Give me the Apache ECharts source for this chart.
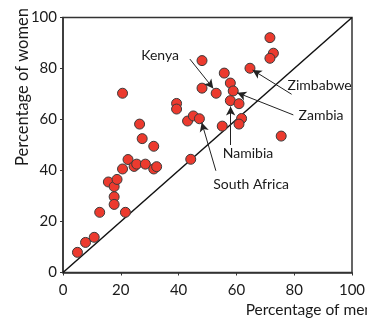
<!DOCTYPE html>
<html>
<head>
<meta charset="utf-8">
<script src="https://cdn.jsdelivr.net/npm/echarts@6/dist/echarts.min.js"></script>
<style>html,body{margin:0;padding:0;background:#fff}#c{width:367px;height:320px}</style>
</head>
<body>
<div id="c"></div>
<script>
// Percentage of men (x) and women (y) per country
const menPct = [5.0, 7.8, 10.8, 12.7, 15.7, 17.7, 17.7, 17.7, 18.7, 21.6, 20.6, 22.5, 24.6, 25.5, 28.5, 31.4, 32.4,
  20.6, 26.5, 27.4, 31.4, 39.3, 39.3, 43.1, 45.1, 47.2, 44.2, 48.1, 55.8, 64.7, 71.6, 72.8, 71.6, 48.1, 53.0,
  57.9, 58.9, 57.9, 60.9, 61.8, 60.9, 55.1, 75.5];
const womenPct = [7.9, 11.8, 13.8, 23.6, 35.5, 33.7, 29.7, 26.7, 36.5, 23.6, 40.6, 44.3, 41.6, 42.5, 42.5, 40.6, 41.5,
  70.3, 58.2, 52.5, 49.5, 66.3, 64.1, 59.4, 61.4, 60.3, 44.4, 83.1, 78.2, 80.1, 92.1, 86.0, 84.0, 72.3, 70.3,
  74.3, 71.2, 67.4, 66.2, 60.4, 58.2, 57.4, 53.5];
const tickValues = [0, 20, 40, 60, 80, 100];
const equalityLine = [[0, 0], [100, 100]];
// Annotation labels: [name, label x, label y, arrow start x, arrow start y, arrow end x, arrow end y]
const annotations = [
  ['Kenya', 33.6, 85.3, 43.9, 83.7, 52.0, 72.2],
  ['Zimbabwe', 88.8, 73.5, 79.1, 69.9, 65.6, 79.4],
  ['Zambia', 89.3, 61.4, 79.7, 61.8, 60.3, 70.5],
  ['Namibia', 64.0, 46.7, 58.0, 50.0, 58.0, 65.1],
  ['South Africa', 65.1, 34.7, 52.9, 39.9, 48.0, 58.8]
];

const font = 'Lato';
const chart = echarts.init(document.getElementById('c'), null, {renderer: 'canvas'});
const axisCommon = {
  type: 'value', min: 0, max: 100, interval: 20,
  axisLine: {show: true, lineStyle: {color: '#333', width: 1.5}},
  axisTick: {show: true, length: 3, lineStyle: {color: '#333', width: 1}},
  splitLine: {show: false},
  nameMoveOverlap: false,
  axisLabel: {color: '#1a1a1a', fontFamily: font, fontSize: 15,
    formatter: v => tickValues.includes(v) ? String(v) : ''}
};
chart.setOption({
  animation: false,
  grid: {left: 63, right: 15, top: 17.5, bottom: 47.5, show: true, borderColor: '#333', borderWidth: 1.5,
    containLabel: false, outerBoundsMode: 'none'},
  xAxis: Object.assign({}, axisCommon, {
    axisLabel: Object.assign({}, axisCommon.axisLabel, {margin: 10}),
    name: 'Percentage of men', nameLocation: 'end', nameGap: 21,
    nameTextStyle: {color: '#1a1a1a', fontFamily: font, fontSize: 15.5, align: 'right', verticalAlign: 'top', padding: [29, 0, 0, 0]}
  }),
  yAxis: Object.assign({}, axisCommon, {
    axisLabel: Object.assign({}, axisCommon.axisLabel, {margin: 6}),
    name: 'Percentage of women', nameLocation: 'middle', nameGap: 32,
    nameTextStyle: {color: '#1a1a1a', fontFamily: font, fontSize: 16.5, padding: [0, 0, 0, 116]}
  }),
  series: [
    {
      type: 'line', data: equalityLine, showSymbol: false, symbol: 'none', z: 1,
      lineStyle: {color: '#111', width: 1.5},
      markLine: {
        silent: true, symbol: ['none', 'arrow'], symbolSize: [7, 9],
        lineStyle: {color: '#222', width: 1, type: 'solid'},
        label: {show: false},
        data: annotations.map(a => [{coord: [a[3], a[4]]}, {coord: [a[5], a[6]]}])
      },
      markPoint: {
        silent: true, symbol: 'circle', symbolSize: 0,
        label: {show: true, position: 'inside', formatter: p => p.name, color: '#1a1a1a', fontFamily: font, fontSize: 14},
        data: annotations.map(a => ({name: a[0], coord: [a[1], a[2]]}))
      }
    },
    {
      type: 'scatter', z: 3, symbolSize: 10,
      data: menPct.map((x, i) => [x, womenPct[i]]),
      itemStyle: {color: '#ec3a2e', borderColor: '#3a3a3a', borderWidth: 1, opacity: 1}
    }
  ]
});
</script>
</body>
</html>
